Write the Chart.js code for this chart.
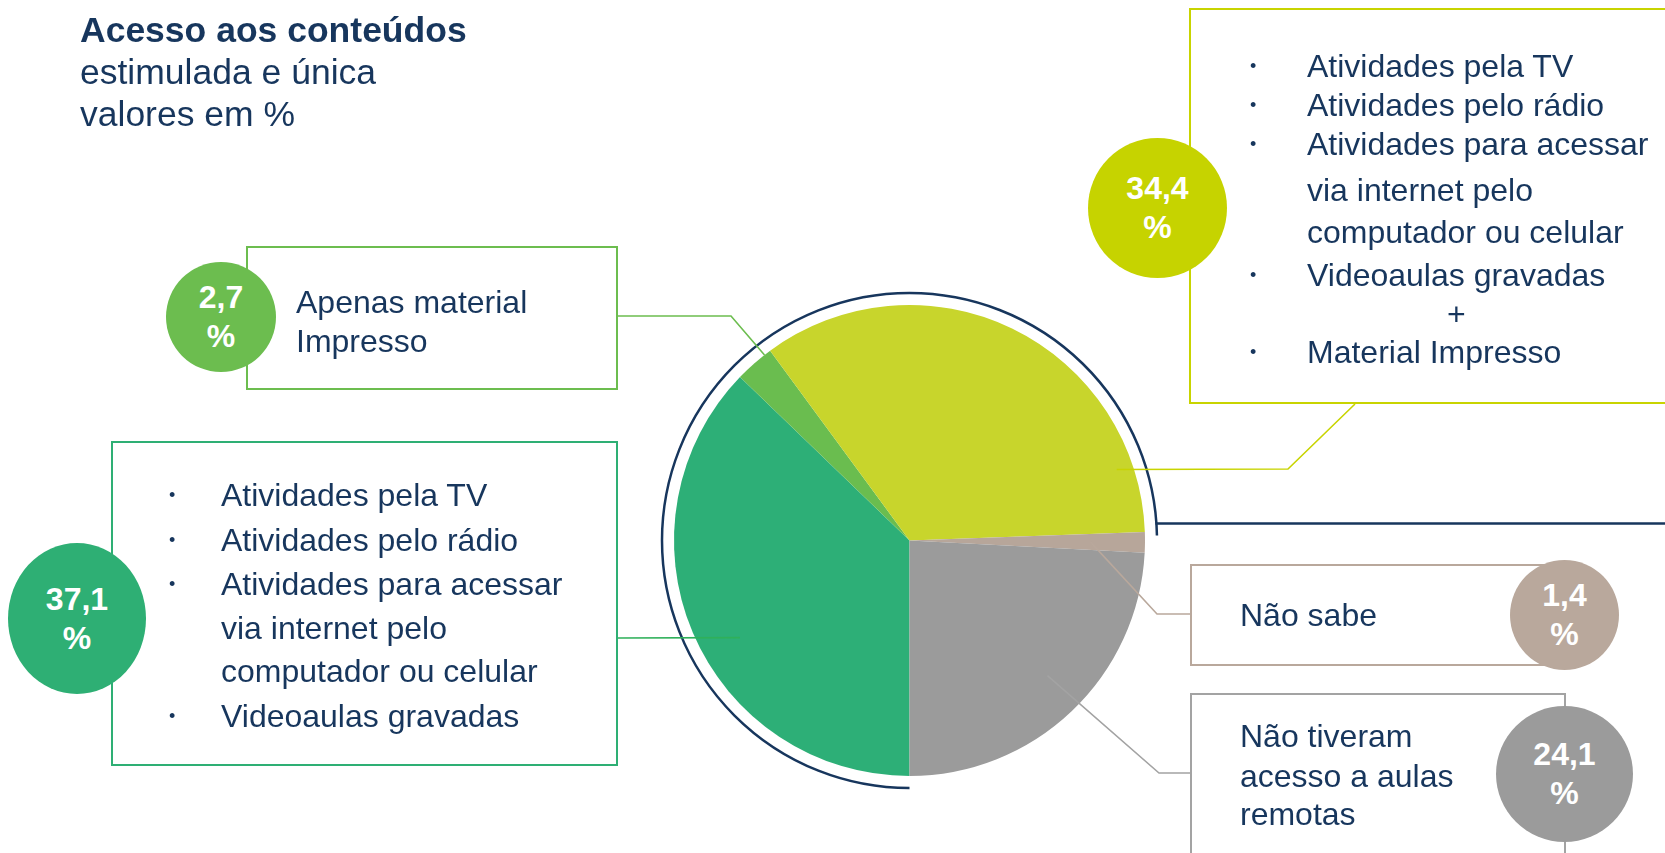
<!DOCTYPE html>
<html>
<head>
<meta charset="utf-8">
<script src="https://cdn.jsdelivr.net/npm/chart.js@4/dist/chart.umd.min.js"></script>
<style>
  html, body { margin: 0; padding: 0; background: #fff; }
  body { width: 1665px; height: 853px; position: relative; overflow: hidden;
         font-family: "Liberation Sans", Arial, sans-serif; color: #17365d; }
  #chart { position: absolute; left: 0; top: 0; z-index: 0; }
  .title { position: absolute; left: 80px; top: 9px; font-size: 35.5px; line-height: 42px; }
  .title b { font-weight: bold; }
  .box { position: absolute; border: 2px solid; box-sizing: border-box; z-index: 1; }
  .ln { position: absolute; font-size: 32px; line-height: 40px; height: 40px; white-space: nowrap; }
  .dot { position: absolute; font-size: 18px; line-height: 40px; height: 40px; }
  .badge { position: absolute; z-index: 2; color: #fff; font-weight: bold; font-size: 32px;
           line-height: 39px; text-align: center; border-radius: 50%;
           display: flex; flex-direction: column; justify-content: center; }
</style>
</head>
<body>
<canvas id="chart" width="1665" height="853"></canvas>

<div class="title"><b>Acesso aos conteúdos</b><br>estimulada e única<br>valores em %</div>

<!-- Apenas material impresso -->
<div class="box" style="left:246px;top:246px;width:372px;height:144px;border-color:#6cbd4f;">
  <div class="ln" style="left:48px;top:34px;">Apenas material</div>
  <div class="ln" style="left:48px;top:73px;">Impresso</div>
</div>

<!-- TV / rádio / internet / videoaulas -->
<div class="box" style="left:111px;top:441px;width:507px;height:325px;border-color:#2eaf74;">
  <div class="dot" style="left:56px;top:32px;">•</div><div class="ln" style="left:108px;top:32px;">Atividades pela TV</div>
  <div class="dot" style="left:56px;top:77px;">•</div><div class="ln" style="left:108px;top:77px;">Atividades pelo rádio</div>
  <div class="dot" style="left:56px;top:121px;">•</div><div class="ln" style="left:108px;top:121px;">Atividades para acessar</div>
  <div class="ln" style="left:108px;top:165px;">via internet pelo</div>
  <div class="ln" style="left:108px;top:208px;">computador ou celular</div>
  <div class="dot" style="left:56px;top:253px;">•</div><div class="ln" style="left:108px;top:253px;">Videoaulas gravadas</div>
</div>

<!-- TV ... + material impresso -->
<div class="box" style="left:1189px;top:8px;width:520px;height:396px;border-color:#c8d400;">
  <div class="dot" style="left:59px;top:36px;">•</div><div class="ln" style="left:116px;top:36px;">Atividades pela TV</div>
  <div class="dot" style="left:59px;top:75px;">•</div><div class="ln" style="left:116px;top:75px;">Atividades pelo rádio</div>
  <div class="dot" style="left:59px;top:114px;">•</div><div class="ln" style="left:116px;top:114px;">Atividades para acessar</div>
  <div class="ln" style="left:116px;top:160px;">via internet pelo</div>
  <div class="ln" style="left:116px;top:202px;">computador ou celular</div>
  <div class="dot" style="left:59px;top:245px;">•</div><div class="ln" style="left:116px;top:245px;">Videoaulas gravadas</div>
  <div class="ln" style="left:256px;top:284px;">+</div>
  <div class="dot" style="left:59px;top:322px;">•</div><div class="ln" style="left:116px;top:322px;">Material Impresso</div>
</div>

<!-- Não sabe -->
<div class="box" style="left:1190px;top:564px;width:376px;height:102px;border-color:#b9a89c;">
  <div class="ln" style="left:48px;top:29px;">Não sabe</div>
</div>

<!-- Não tiveram acesso -->
<div class="box" style="left:1190px;top:693px;width:376px;height:220px;border-color:#a3a3a3;">
  <div class="ln" style="left:48px;top:21px;">Não tiveram</div>
  <div class="ln" style="left:48px;top:61px;">acesso a aulas</div>
  <div class="ln" style="left:48px;top:99px;">remotas</div>
</div>

<div class="badge" style="left:166px;top:262px;width:110px;height:110px;background:#6cbd4f;"><span>2,7</span><span>%</span></div>
<div class="badge" style="left:8px;top:543px;width:138px;height:151px;background:#2eaf74;"><span>37,1</span><span>%</span></div>
<div class="badge" style="left:1088px;top:138px;width:139px;height:140px;background:#c6d300;"><span>34,4</span><span>%</span></div>
<div class="badge" style="left:1510px;top:560px;width:109px;height:110px;background:#b9a89c;"><span>1,4</span><span>%</span></div>
<div class="badge" style="left:1496px;top:706px;width:137px;height:136px;background:#9b9b9b;"><span>24,1</span><span>%</span></div>

<script>
const categories = [
  'TV, rádio, internet, videoaulas',
  'Apenas material impresso',
  'TV, rádio, internet, videoaulas + material impresso',
  'Não sabe',
  'Não tiveram acesso a aulas remotas'
];
const values = [37.1, 2.7, 34.4, 1.4, 24.1];
const sliceColors = ['#2daf77', '#6abd4f', '#c8d52c', '#b7a69a', '#9b9b9b'];

// leader lines: anchor inside slice (angle from top, clockwise, and fraction of radius), then elbow points
const leaders = [
  { color: '#2fb05a', a: 240.2, f: 0.83, pts: [[618, 638]] },
  { color: '#6cbd4f', a: 322, f: 1.0, pts: [[731, 316], [618, 316]] },
  { color: '#c8d400', a: 71.1, f: 0.93, pts: [[1288, 469], [1355, 404]] },
  { color: '#b9a89c', a: 90.6, f: 0.77, pts: [[1157, 614], [1190, 614]] },
  { color: '#a3a3a3', a: 134.4, f: 0.82, pts: [[1159, 773], [1190, 773]] }
];

const decorations = {
  id: 'decorations',
  afterDatasetsDraw(chart) {
    const ctx = chart.ctx;
    const arc0 = chart.getDatasetMeta(0).data[0];
    const cx = arc0.x, cy = arc0.y, r = arc0.outerRadius;

    // navy ring from bottom, round the left and top, to the right
    const R = r + 12;
    ctx.save();
    ctx.strokeStyle = '#17365d';
    ctx.lineWidth = 2.5;
    ctx.beginPath();
    ctx.arc(cx, cy, R, Math.PI / 2, Math.PI * 2 - 0.02);
    ctx.stroke();
    const dy = 17;
    ctx.beginPath();
    ctx.moveTo(cx + Math.sqrt(R * R - dy * dy) - 1, cy - dy);
    ctx.lineTo(chart.width, cy - dy);
    ctx.stroke();

    // leader lines
    ctx.lineWidth = 1.6;
    leaders.forEach(l => {
      const t = l.a * Math.PI / 180;
      ctx.strokeStyle = l.color;
      ctx.beginPath();
      ctx.moveTo(cx + Math.sin(t) * r * l.f, cy - Math.cos(t) * r * l.f);
      l.pts.forEach(p => ctx.lineTo(p[0], p[1]));
      ctx.stroke();
    });
    ctx.restore();
  }
};

new Chart(document.getElementById('chart'), {
  type: 'pie',
  data: {
    labels: categories,
    datasets: [{
      data: values,
      backgroundColor: sliceColors,
      borderWidth: 0
    }]
  },
  options: {
    responsive: false,
    animation: false,
    rotation: 180,
    layout: { padding: { left: 674, right: 520, top: 305, bottom: 77 } },
    plugins: {
      legend: { display: false },
      tooltip: { enabled: false }
    }
  },
  plugins: [decorations]
});
</script>
</body>
</html>
